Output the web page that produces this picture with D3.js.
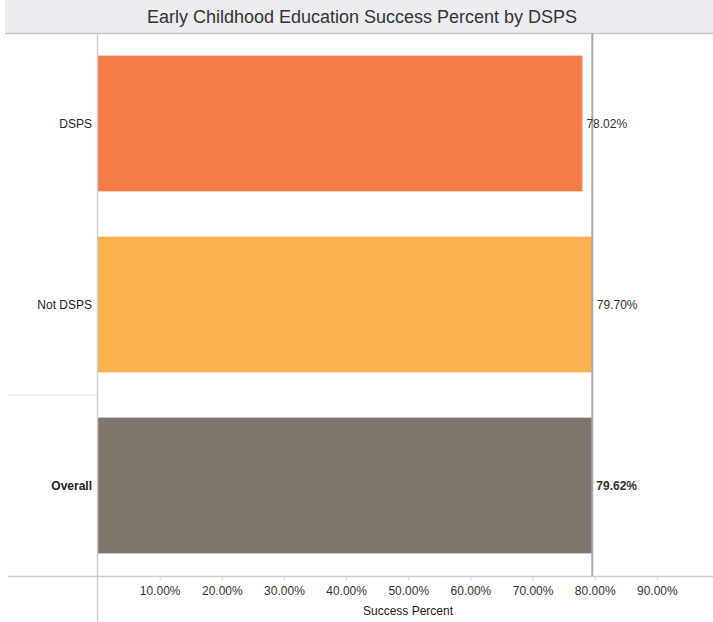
<!DOCTYPE html>
<html><head><meta charset="utf-8">
<script src="https://cdn.jsdelivr.net/npm/d3@7"></script>
<style>body{margin:0;background:#fff;} svg{display:block;font-family:Arial,"Liberation Sans",sans-serif;}</style>
</head><body>
<svg id="c" width="713" height="622"></svg>
<script>
const categories = ["DSPS", "Not DSPS", "Overall"];
const values = [78.02, 79.70, 79.62];
const colors = ["#F57C44", "#FAB250", "#7F766D"];
const tickValues = [10, 20, 30, 40, 50, 60, 70, 80, 90];
const referenceValue = 79.62;
const title = "Early Childhood Education Success Percent by DSPS";
const xTitle = "Success Percent";

(function () {
const svg = d3.select("#c");
const W = 713, H = 622;
const pLeft = 97.5, pRight = 719, pTop = 33, pBottom = 576;

// title band
svg.append("rect").attr("x", 5).attr("y", 0).attr("width", W - 5).attr("height", 33).attr("fill", "#ECEDF1");
svg.append("text").attr("x", 362).attr("y", 23).attr("text-anchor", "middle")
  .attr("font-size", 18).attr("fill", "#333").text(title);
svg.append("line").attr("x1", 5).attr("x2", W).attr("y1", 33.5).attr("y2", 33.5)
  .attr("stroke", "#c8c8c8").attr("stroke-width", 1.5);

const x = d3.scaleLinear().domain([0, 100]).range([pLeft, pRight]);
const y = d3.scaleBand().domain(categories).range([pTop, pBottom]).paddingInner(0.25).paddingOuter(0.125);

// bars
svg.append("g").selectAll("rect").data(categories).join("rect")
  .attr("x", x(0) + 0.5).attr("y", d => y(d))
  .attr("width", (d, i) => x(values[i]) - x(0) - 0.5)
  .attr("height", y.bandwidth())
  .attr("fill", (d, i) => colors[i]);

// reference line
svg.append("line").attr("x1", x(referenceValue)).attr("x2", x(referenceValue))
  .attr("y1", pTop).attr("y2", pBottom).attr("stroke", "#A9A9A9").attr("stroke-width", 2);

// row separator before Overall
const sepY = (y("Not DSPS") + y.bandwidth() + y("Overall")) / 2;
svg.append("line").attr("x1", 8).attr("x2", pLeft).attr("y1", sepY).attr("y2", sepY)
  .attr("stroke", "#dcdcdc").attr("stroke-width", 1);

// left axis line
svg.append("line").attr("x1", pLeft).attr("x2", pLeft).attr("y1", pTop).attr("y2", H)
  .attr("stroke", "#cfcfcf").attr("stroke-width", 1.5);

// category labels
svg.append("g").selectAll("text").data(categories).join("text")
  .attr("x", 92).attr("y", d => y(d) + y.bandwidth() / 2 + 4)
  .attr("text-anchor", "end").attr("font-size", 12).attr("fill", "#222")
  .attr("font-weight", d => d === "Overall" ? "bold" : "normal")
  .text(d => d);

// value labels
svg.append("g").selectAll("text").data(categories).join("text")
  .attr("x", (d, i) => x(values[i]) + 4).attr("y", d => y(d) + y.bandwidth() / 2 + 4)
  .attr("font-size", 12).attr("fill", "#333")
  .attr("font-weight", d => d === "Overall" ? "bold" : "normal")
  .text((d, i) => values[i].toFixed(2) + "%");

// bottom axis
svg.append("line").attr("x1", 8).attr("x2", W).attr("y1", pBottom + 0.5).attr("y2", pBottom + 0.5)
  .attr("stroke", "#cfcfcf").attr("stroke-width", 1.5);
const axis = d3.axisBottom(x).tickValues(tickValues).tickSize(4).tickPadding(6)
  .tickFormat(d => d.toFixed(2) + "%");
const ax = svg.append("g").attr("transform", `translate(0,${pBottom + 0.5})`).call(axis);
ax.select(".domain").remove();
ax.selectAll(".tick line").attr("stroke", "#cfcfcf");
ax.selectAll(".tick text").attr("font-size", 12).attr("fill", "#333")
  .attr("font-family", "Arial, 'Liberation Sans', sans-serif");

svg.append("text").attr("x", 408).attr("y", 615).attr("text-anchor", "middle")
  .attr("font-size", 12).attr("fill", "#222").text(xTitle);
})();
</script>
</body></html>
